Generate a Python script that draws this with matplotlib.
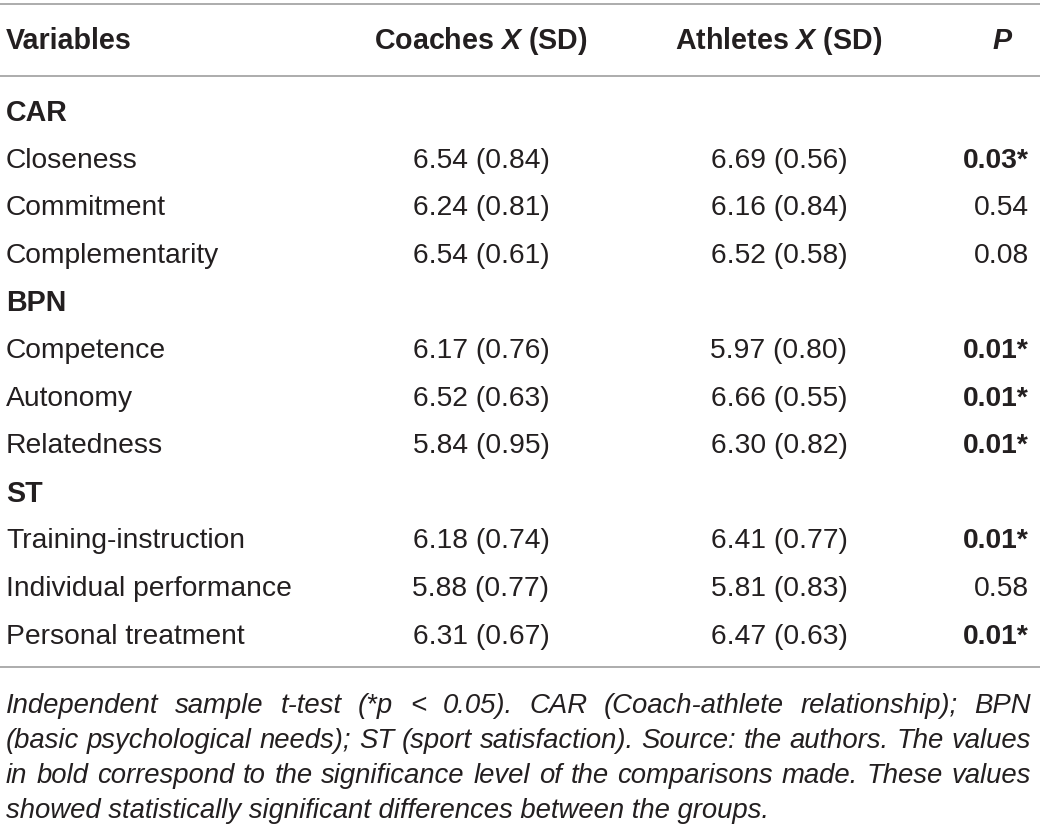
import matplotlib
matplotlib.use("Agg")
import matplotlib.pyplot as plt

plt.rcParams['font.family'] = ['Liberation Sans', 'DejaVu Sans']
plt.rcParams['mathtext.fontset'] = 'custom'
plt.rcParams['mathtext.bfit'] = 'Liberation Sans:bold:italic'
plt.rcParams['mathtext.it'] = 'Liberation Sans:italic'
plt.rcParams['mathtext.bf'] = 'Liberation Sans:bold'

# table content
headers = ["Variables", "Coaches $\\mathbfit{X}$ (SD)", "Athletes $\\mathbfit{X}$ (SD)", "P"]
groups = ["CAR", "BPN", "ST"]
variables = [
    ["Closeness", "Commitment", "Complementarity"],
    ["Competence", "Autonomy", "Relatedness"],
    ["Training-instruction", "Individual performance", "Personal treatment"],
]
coaches = [
    ["6.54 (0.84)", "6.24 (0.81)", "6.54 (0.61)"],
    ["6.17 (0.76)", "6.52 (0.63)", "5.84 (0.95)"],
    ["6.18 (0.74)", "5.88 (0.77)", "6.31 (0.67)"],
]
athletes = [
    ["6.69 (0.56)", "6.16 (0.84)", "6.52 (0.58)"],
    ["5.97 (0.80)", "6.66 (0.55)", "6.30 (0.82)"],
    ["6.41 (0.77)", "5.81 (0.83)", "6.47 (0.63)"],
]
pvals = [
    ["0.03*", "0.54", "0.08"],
    ["0.01*", "0.01*", "0.01*"],
    ["0.01*", "0.58", "0.01*"],
]
footnote_lines = [
    "Independent sample t-test (*p < 0.05). CAR (Coach-athlete relationship); BPN",
    "(basic psychological needs); ST (sport satisfaction). Source: the authors. The values",
    "in bold correspond to the significance level of the comparisons made. These values",
    "showed statistically significant differences between the groups.",
]

W, H = 1040, 829
fig = plt.figure(figsize=(W / 100, H / 100), dpi=100)
ax = fig.add_axes([0, 0, 1, 1])
ax.set_xlim(0, W)
ax.set_ylim(H, 0)
ax.axis("off")

txt = "#231f20"
line_c = "#a6a6a6"
fs = 20.3
fs_head = 20.6
fs_note = 19.8

x_var, x_coach, x_ath, x_p = 6, 481, 779, 1029

for y in (5, 77, 668):
    ax.plot([0, W], [y, y], color=line_c, lw=1.3)

hy = 41
ax.text(x_var, hy, headers[0], fontsize=fs_head, fontweight="bold", color=txt, va="center")
ax.text(x_coach, hy, headers[1], fontsize=fs_head, fontweight="bold", color=txt,
        va="center", ha="center")
ax.text(x_ath, hy, headers[2], fontsize=fs_head, fontweight="bold", color=txt,
        va="center", ha="center")
ax.text(1002, hy, headers[3], fontsize=fs_head, fontweight="bold", fontstyle="italic",
        color=txt, va="center", ha="center")

row_h = 47.6
y = 113
for g, gname in enumerate(groups):
    ax.text(x_var, y, gname, fontsize=fs_head, fontweight="bold", color=txt, va="center")
    y += row_h
    for i in range(3):
        ax.text(x_var, y, variables[g][i], fontsize=fs, color=txt, va="center")
        ax.text(x_coach, y, coaches[g][i], fontsize=fs, color=txt, va="center", ha="center")
        ax.text(x_ath, y, athletes[g][i], fontsize=fs, color=txt, va="center", ha="center")
        bold = pvals[g][i].endswith("*")
        ax.text(x_p, y, pvals[g][i], fontsize=fs, color=txt, va="center", ha="right",
                fontweight="bold" if bold else "normal")
        y += row_h

# justified italic footnote
fig.canvas.draw()
renderer = fig.canvas.get_renderer()


def width_of(s):
    t = ax.text(0, 0, s, fontsize=fs_note, fontstyle="italic")
    bb = t.get_window_extent(renderer)
    t.remove()
    return bb.width


left, right = 6, 1031
fy = 706
for li, line in enumerate(footnote_lines):
    ln = line.split(" ")
    if li == len(footnote_lines) - 1:
        ax.text(left, fy, line, fontsize=fs_note, fontstyle="italic", color=txt, va="center")
    else:
        widths = [width_of(w) for w in ln]
        gap = (right - left - sum(widths)) / (len(ln) - 1)
        xx = left
        for w, wd in zip(ln, widths):
            ax.text(xx, fy, w, fontsize=fs_note, fontstyle="italic", color=txt, va="center")
            xx += wd + gap
    fy += 35

fig.savefig("out.png", dpi=100)
